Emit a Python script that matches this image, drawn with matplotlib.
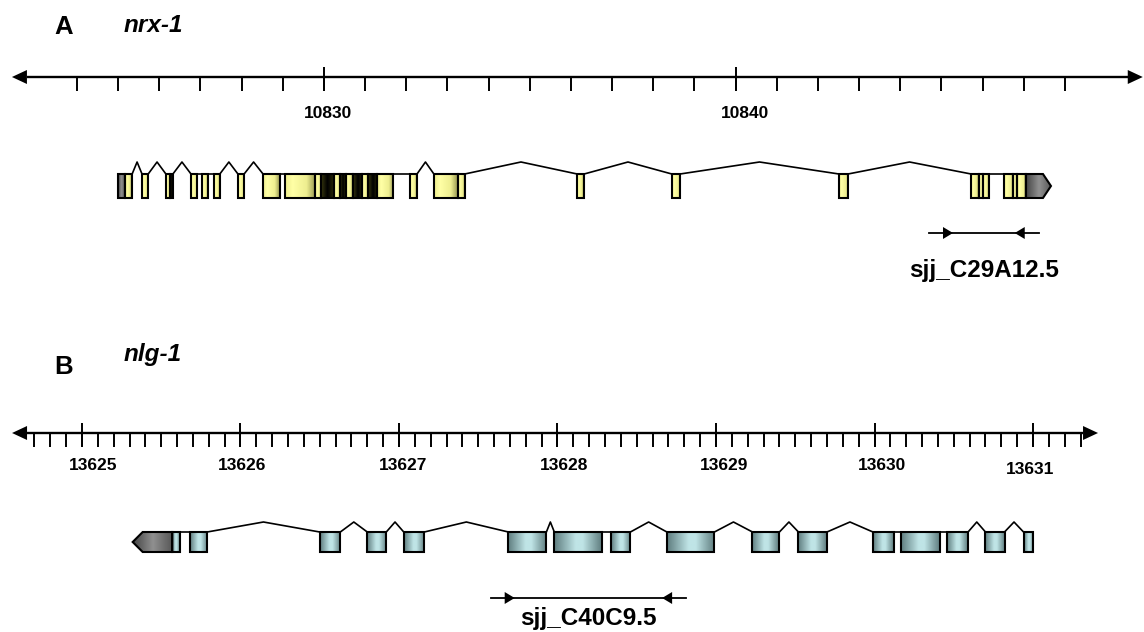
import matplotlib
matplotlib.use('Agg')
import matplotlib.pyplot as plt
import numpy as np
from matplotlib.colors import LinearSegmentedColormap
from matplotlib.patches import Polygon

plt.rcParams['font.family'] = ['Liberation Sans', 'DejaVu Sans']

# ---------------- panel A: nrx-1 (positions in kb) ----------------
ruler_a_minor = list(range(10824, 10849))
ruler_a_major = [10830, 10840]
exon_a_start = [10825.00, 10825.17, 10825.58, 10826.16, 10826.26, 10826.77, 10827.04,
                10827.33, 10827.91, 10828.52, 10829.05, 10829.78, 10829.93, 10830.24,
                10830.39, 10830.53, 10830.70, 10830.92, 10831.07, 10831.29, 10832.09,
                10832.67, 10833.25, 10836.15, 10838.45, 10842.51, 10845.72, 10845.91,
                10846.01, 10846.52, 10846.74, 10846.83, 10847.05]
exon_a_end = [10825.17, 10825.34, 10825.73, 10826.26, 10826.33, 10826.92, 10827.18,
              10827.47, 10828.06, 10828.93, 10829.78, 10829.93, 10830.24, 10830.39,
              10830.53, 10830.70, 10830.92, 10831.07, 10831.29, 10831.68, 10832.26,
              10833.25, 10833.42, 10836.32, 10838.65, 10842.73, 10845.91, 10846.01,
              10846.15, 10846.74, 10846.83, 10847.05, 10847.66]
exon_a_kind = ['utr', 'cds', 'cds', 'cds', 'dark', 'cds', 'cds', 'cds', 'cds', 'cds',
               'cds', 'cds', 'dark', 'cds', 'dark', 'cds', 'dark', 'cds', 'dark', 'cds',
               'cds', 'cds', 'cds', 'cds', 'cds', 'cds', 'cds', 'cds', 'cds', 'cds',
               'cds', 'cds', 'utr3']
intron_a = [(10825.34, 10825.58), (10825.73, 10826.16), (10826.33, 10826.77),
            (10827.47, 10827.91), (10828.06, 10828.52), (10832.26, 10832.67),
            (10833.42, 10836.15), (10836.32, 10838.45), (10838.65, 10842.51),
            (10842.73, 10845.72)]
primer_a = (10845.28, 10846.78)
primer_a_name = 'sjj_C29A12.5'

# ---------------- panel B: nlg-1 (positions in kb) ----------------
ruler_b_minor = np.round(np.arange(13624.7, 13631.31, 0.1), 1)
ruler_b_major = [13625, 13626, 13627, 13628, 13629, 13630, 13631]
exon_b_start = [13625.32, 13625.57, 13625.68, 13626.50, 13626.80, 13627.03, 13627.69,
                13627.98, 13628.34, 13628.69, 13629.23, 13629.52, 13629.99, 13630.17,
                13630.46, 13630.70, 13630.94]
exon_b_end = [13625.57, 13625.62, 13625.79, 13626.63, 13626.92, 13627.16, 13627.93,
              13628.28, 13628.46, 13628.99, 13629.40, 13629.70, 13630.12, 13630.41,
              13630.59, 13630.82, 13631.00]
exon_b_kind = ['utr5r'] + ['cds_b'] * 16
intron_b = [(13625.79, 13626.50), (13626.63, 13626.80), (13626.92, 13627.03),
            (13627.16, 13627.69), (13627.93, 13627.98), (13628.46, 13628.69),
            (13628.99, 13629.23), (13629.40, 13629.52), (13629.70, 13629.99),
            (13630.59, 13630.70), (13630.82, 13630.94)]
primer_b = (13627.73, 13628.66)
primer_b_name = 'sjj_C40C9.5'

W, H = 1144, 632

cmaps = {
    'cds': LinearSegmentedColormap.from_list('cds', [(0, '#eeee8c'), (0.25, '#ffffa6'),
                                                     (0.7, '#eeee90'), (1, '#94944e')]),
    'dark': LinearSegmentedColormap.from_list('dark', [(0, '#3a3a10'), (0.5, '#000000'),
                                                       (1, '#2a2a08')]),
    'cds_b': LinearSegmentedColormap.from_list('cdsb', [(0, '#5e7c7e'), (0.45, '#bfe4e6'),
                                                        (0.6, '#bfe4e6'), (1, '#5e7c7e')]),
    'utr': LinearSegmentedColormap.from_list('utr', [(0, '#444444'), (0.5, '#909090'),
                                                     (1, '#555555')]),
}
cmaps['utr3'] = cmaps['utr']
cmaps['utr5r'] = cmaps['utr']
grad = np.linspace(0, 1, 256).reshape(1, -1)

fig = plt.figure(figsize=(W / 100, H / 100), dpi=100)


def make_axes(xlim):
    ax = fig.add_axes([0, 0, 1, 1])
    ax.set_autoscale_on(False)
    ax.set_xlim(xlim)
    ax.set_ylim(H, 0)
    ax.axis('off')
    return ax


def ruler(ax, tips, y, minor, major, ppk, labels_dx, labels_dy, label_y):
    hl = 15 / ppk
    ax.plot([tips[0] + hl, tips[1] - hl], [y, y], color='black', lw=1.7, solid_capstyle='butt')
    ax.add_patch(Polygon([(tips[0], y), (tips[0] + hl, y - 7), (tips[0] + hl, y + 7)],
                         closed=True, color='black', lw=0))
    ax.add_patch(Polygon([(tips[1], y), (tips[1] - hl, y - 7), (tips[1] - hl, y + 7)],
                         closed=True, color='black', lw=0))
    ax.vlines(minor, y, y + 14, color='black', lw=1.4)
    ax.vlines(major, y - 10, y + 14, color='black', lw=1.4)
    for v, dx, dy in zip(major, labels_dx, labels_dy):
        ax.text(v + dx / ppk, label_y + dy, str(v), ha='center', va='center',
                fontsize=12.5, fontweight='bold')


def gene(ax, starts, ends, kinds, introns, top, bot, peak, ppk):
    mid = (top + bot) / 2
    for s, e, k in zip(starts, ends, kinds):
        if k == 'utr3':
            h = 8 / ppk
            verts = [(s, top), (e - h, top), (e, mid), (e - h, bot), (s, bot)]
        elif k == 'utr5r':
            h = 10 / ppk
            verts = [(e, top), (s + h, top), (s, mid), (s + h, bot), (e, bot)]
        else:
            verts = [(s, top), (e, top), (e, bot), (s, bot)]
        patch = Polygon(verts, closed=True, fc='none', ec='black', lw=1.5, zorder=3,
                        joinstyle='miter')
        ax.add_patch(patch)
        im = ax.imshow(grad, cmap=cmaps[k], extent=(s, e, bot, top), aspect='auto',
                       zorder=2, interpolation='bilinear')
        im.set_clip_path(patch)
    for s, e in introns:
        ax.plot([s, (s + e) / 2, e], [top, peak, top], color='black', lw=1.2, zorder=1)
    for i in range(len(starts) - 1):
        gap = (ends[i], starts[i + 1])
        if gap[1] - gap[0] > 1e-6 and gap not in introns:
            ax.plot(gap, [top, top], color='black', lw=1.2, zorder=1)


def primer(ax, pos, y, ppk, name, label_y):
    fwd, rev = pos
    tail, hl, hw = 24 / ppk, 10 / ppk, 6
    ax.plot([fwd - tail, rev + tail], [y, y], color='black', lw=1.3)
    ax.add_patch(Polygon([(fwd, y), (fwd - hl, y - hw), (fwd - hl, y + hw)],
                         closed=True, color='black', lw=0))
    ax.add_patch(Polygon([(rev, y), (rev + hl, y - hw), (rev + hl, y + hw)],
                         closed=True, color='black', lw=0))
    ax.text((fwd + rev) / 2, label_y, name, ha='center', va='center',
            fontsize=17.5, fontweight='bold')


# panel A
xlim_a = (10822.13, 10849.92)
ppk_a = W / (xlim_a[1] - xlim_a[0])
ax_a = make_axes(xlim_a)
ruler(ax_a, (10822.42, 10849.89), 77, ruler_a_minor, ruler_a_major, ppk_a,
      [4, 9], [0, 0], 113)
gene(ax_a, exon_a_start, exon_a_end, exon_a_kind, intron_a, 174, 198, 162, ppk_a)
primer(ax_a, primer_a, 233, ppk_a, primer_a_name, 270)
ax_a.set_xlim(xlim_a)
ax_a.set_ylim(H, 0)

# panel B
xlim_b = (13624.483, 13631.700)
ppk_b = W / (xlim_b[1] - xlim_b[0])
ax_b = make_axes(xlim_b)
ruler(ax_b, (13624.559, 13631.41), 433, ruler_b_minor, ruler_b_major, ppk_b,
      [11, 2, 4, 7, 8, 7, -3], [0, 0, 0, 0, 0, 0, 5], 465)
gene(ax_b, exon_b_start, exon_b_end, exon_b_kind, intron_b, 532, 552, 522, ppk_b)
primer(ax_b, primer_b, 598, ppk_b, primer_b_name, 618)
ax_b.set_xlim(xlim_b)
ax_b.set_ylim(H, 0)

# panel letters and gene names
fig.text(54 / W, 1 - 27 / H, 'A', fontsize=18.5, fontweight='bold', va='center')
fig.text(124 / W, 1 - 26 / H, 'nrx-1', fontsize=17.5, fontweight='bold', style='italic', va='center')
fig.text(54 / W, 1 - 367 / H, 'B', fontsize=18.5, fontweight='bold', va='center')
fig.text(124 / W, 1 - 355 / H, 'nlg-1', fontsize=17.5, fontweight='bold', style='italic', va='center')

fig.savefig('out.png', dpi=100)
